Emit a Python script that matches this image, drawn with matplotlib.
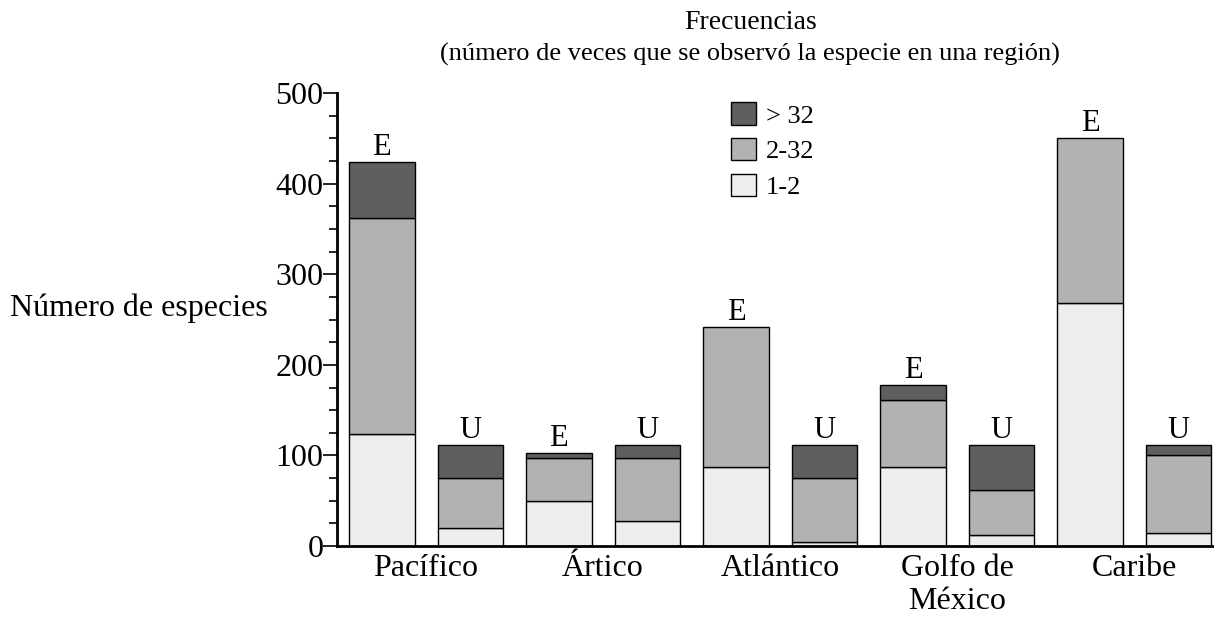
import numpy as np
import matplotlib.pyplot as plt
from matplotlib.patches import Patch

plt.rcParams['font.family'] = ['Liberation Serif', 'DejaVu Serif']

regions = ['Pacífico', 'Ártico', 'Atlántico', 'Golfo de\nMéxico', 'Caribe']
# each region has an E bar and a U bar
low_E = [124, 50, 87, 87, 268]
mid_E = [238, 47, 155, 74, 182]
high_E = [62, 6, 0, 17, 0]
low_U = [20, 28, 5, 12, 14]
mid_U = [55, 69, 70, 50, 87]
high_U = [37, 15, 37, 50, 11]
bar_tags = ['E', 'U']
legend_labels = ['> 32', '2-32', '1-2']

colors = {'low': '#eeeeee', 'mid': '#b2b2b2', 'high': '#5f5f5f'}

fig = plt.figure(figsize=(12.14, 6.17), dpi=100)
ax = fig.add_axes([0.278, 0.115, 0.722, 0.734])

x = np.arange(len(regions))
w = 0.37
for off, tag, lo, mi, hi in [(0.0, 'E', low_E, mid_E, high_E), (0.5, 'U', low_U, mid_U, high_U)]:
    pos = x + off
    lo = np.array(lo)
    mi = np.array(mi)
    hi = np.array(hi)
    ax.bar(pos, lo, w, color=colors['low'], edgecolor='black', linewidth=1)
    ax.bar(pos, mi, w, bottom=lo, color=colors['mid'], edgecolor='black', linewidth=1)
    hmask = hi > 0
    ax.bar(pos[hmask], hi[hmask], w, bottom=(lo + mi)[hmask], color=colors['high'],
           edgecolor='black', linewidth=1)
    tot = lo + mi + hi
    for p, t in zip(pos, tot):
        ax.annotate(tag, (p, t), xytext=(0, 0), textcoords='offset points',
                    ha='center', va='bottom', fontsize=22)

ax.set_xlim(-0.25, 4.70)
ax.set_ylim(0, 500)
ax.set_xticks(x + 0.25)
ax.set_xticklabels(regions, fontsize=23, va='top', linespacing=1.15)
ax.tick_params(axis='x', length=0, pad=6)
ax.set_yticks(np.arange(0, 501, 100))
ax.set_yticks(np.arange(0, 501, 25), minor=True)
ax.tick_params(axis='y', which='major', length=10, width=1.2, labelsize=23, pad=0)
ax.tick_params(axis='y', which='minor', length=6, width=1.2)
for s in ['top', 'right']:
    ax.spines[s].set_visible(False)
for s in ['left', 'bottom']:
    ax.spines[s].set_linewidth(2)

handles = [Patch(facecolor=colors['high'], edgecolor='black'),
           Patch(facecolor=colors['mid'], edgecolor='black'),
           Patch(facecolor=colors['low'], edgecolor='black')]
ax.legend(handles, legend_labels, loc='upper left', bbox_to_anchor=(0.449, 0.98),
          frameon=False, fontsize=19, handlelength=0.93, handleheight=0.93,
          labelspacing=0.4, handletextpad=0.4, borderpad=0, borderaxespad=0)

fig.text(0.618, 0.964, 'Frecuencias', ha='center', va='center', fontsize=20)
fig.text(0.618, 0.911, '(número de veces que se observó la especie en una región)',
         ha='center', va='center', fontsize=19)
fig.text(0.008, 0.501, 'Número de especies', ha='left', va='center', fontsize=23)

fig.savefig('out.png', dpi=100)
